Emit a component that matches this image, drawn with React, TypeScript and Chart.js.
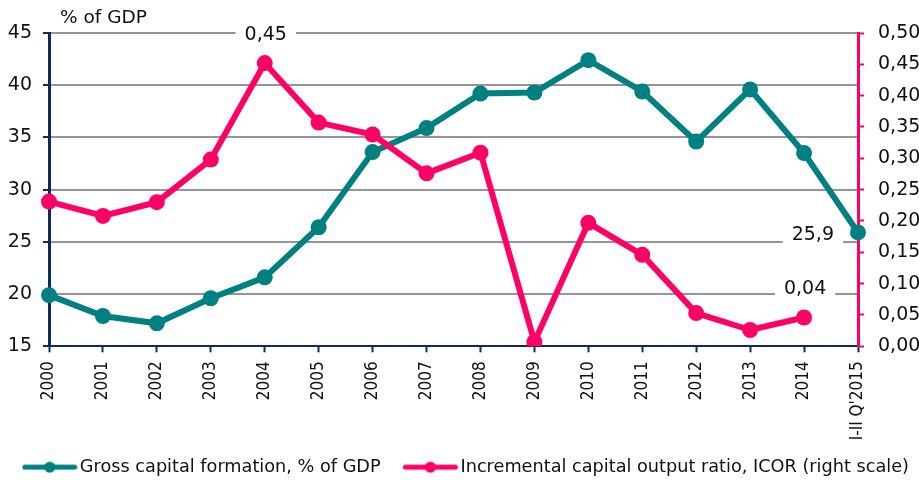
import React, { useEffect, useRef } from 'react';
import { Chart, registerables } from 'chart.js';

Chart.register(...registerables);

const categories = ['2000', '2001', '2002', '2003', '2004', '2005', '2006', '2007', '2008', '2009', '2010', '2011', '2012', '2013', '2014', "I-II Q'2015"];
const grossCapitalFormation = [19.9, 17.9, 17.2, 19.6, 21.6, 26.4, 33.6, 35.9, 39.2, 39.3, 42.4, 39.4, 34.6, 39.6, 33.5, 25.9];
const icor = [0.231, 0.208, 0.23, 0.298, 0.452, 0.357, 0.338, 0.276, 0.309, 0.007, 0.197, 0.146, 0.053, 0.026, 0.046, null];
const seriesNames = ['Gross capital formation, % of GDP', 'Incremental capital output ratio, ICOR (right scale)'];
const leftAxisRange = [15, 45, 5];
const rightAxisRange = [0, 0.5, 0.05];
const leftAxisTitle = '% of GDP';
// [datasetIndex, pointIndex, text, placement]
const valueLabels: [number, number, string, string][] = [
  [1, 4, '0,45', 'above'],
  [0, 15, '25,9', 'left'],
  [1, 14, '0,04', 'above'],
];

const FONT = "'DejaVu Sans', Verdana, sans-serif";
const TEAL = '#008080';
const PINK = '#ff0066';
const NAVY = '#0b2a66';
const GRID = '#959595';
const TEXT = '#111111';

function condensedAvailable() {
  const c = document.createElement('canvas');
  const ctx = c.getContext('2d')!;
  const s = 'I-II 2000 Q2015 abcdefg';
  ctx.font = "40px 'DejaVu Sans Condensed', monospace";
  const a = ctx.measureText(s).width;
  ctx.font = '40px monospace';
  const b = ctx.measureText(s).width;
  return Math.abs(a - b) > 0.5;
}

function makeSymbol(color: string) {
  const c = document.createElement('canvas');
  c.width = 80;
  c.height = 14;
  const ctx = c.getContext('2d')!;
  const cx = 51.3;
  ctx.strokeStyle = color;
  ctx.lineWidth = 5;
  ctx.lineCap = 'round';
  ctx.beginPath();
  ctx.moveTo(cx - 25, 7);
  ctx.lineTo(cx + 25, 7);
  ctx.stroke();
  ctx.fillStyle = color;
  ctx.beginPath();
  ctx.arc(cx, 7, 5.5, 0, Math.PI * 2);
  ctx.fill();
  return c;
}

const labelPlugin = {
  id: 'valueLabels',
  beforeDatasetsDraw(chart: any) {
    const ctx = chart.ctx;
    ctx.save();
    ctx.font = `19px ${FONT}`;
    ctx.textBaseline = 'middle';
    ctx.textAlign = 'center';
    valueLabels.forEach(([ds, idx, text, place]) => {
      const pt = chart.getDatasetMeta(ds).data[idx];
      if (!pt) return;
      const w = ctx.measureText(text).width;
      let cx = pt.x;
      let cy = pt.y;
      if (place === 'above') {
        cx = pt.x + 1;
        cy = pt.y - 28;
      } else {
        cx = pt.x - 24 - w / 2;
        cy = pt.y + 3;
      }
      ctx.fillStyle = '#ffffff';
      ctx.fillRect(cx - w / 2 - 9, cy - 11, w + 18, 22);
      ctx.fillStyle = TEXT;
      ctx.fillText(text, cx, cy);
    });
    ctx.restore();
  },
  afterDraw(chart: any) {
    const ctx = chart.ctx;
    ctx.save();
    ctx.font = `18.5px ${FONT}`;
    ctx.textBaseline = 'middle';
    ctx.textAlign = 'left';
    ctx.fillStyle = TEXT;
    ctx.fillText(leftAxisTitle, chart.chartArea.left + 11, chart.chartArea.top - 15);
    ctx.restore();
  },
};

export default function App() {
  const ref = useRef<HTMLCanvasElement>(null);
  useEffect(() => {
    if (!ref.current) return;
    const symbols = [makeSymbol(TEAL), makeSymbol(PINK)];
    const hasCond = condensedAvailable();
    const xFont = hasCond
      ? { family: "'DejaVu Sans Condensed', 'DejaVu Sans', sans-serif", size: 17 }
      : { family: FONT, size: 15.5 };
    const chart = new Chart(ref.current, {
      type: 'line',
      data: {
        labels: categories,
        datasets: [
          {
            label: seriesNames[0],
            data: grossCapitalFormation,
            yAxisID: 'y',
            borderColor: TEAL,
            backgroundColor: TEAL,
            borderWidth: 6,
            pointRadius: 8,
            pointHoverRadius: 8,
            pointBorderWidth: 0,
            pointBackgroundColor: TEAL,
            tension: 0,
            order: 2,
          },
          {
            label: seriesNames[1],
            data: icor,
            yAxisID: 'y1',
            borderColor: PINK,
            backgroundColor: PINK,
            borderWidth: 6,
            pointRadius: 8,
            pointHoverRadius: 8,
            pointBorderWidth: 0,
            pointBackgroundColor: PINK,
            tension: 0,
            order: 1,
          },
        ],
      },
      options: {
        animation: false,
        responsive: false,
        layout: { padding: { top: 33, left: 0, right: 0, bottom: 0 } },
        plugins: {
          tooltip: { enabled: false },
          legend: {
            position: 'bottom',
            align: 'start',
            labels: {
              usePointStyle: true,
              pointStyleWidth: 65,
              padding: 6,
              color: TEXT,
              font: { family: FONT, size: 17.7 },
              generateLabels: (c: any) =>
                c.data.datasets.map((ds: any, i: number) => ({
                  text: ds.label,
                  pointStyle: symbols[i],
                  fillStyle: ds.borderColor,
                  strokeStyle: ds.borderColor,
                  lineWidth: 0,
                  hidden: false,
                  datasetIndex: i,
                  fontColor: TEXT,
                })),
            },
          },
        },
        scales: {
          x: {
            type: 'category',
            offset: false,
            afterFit: (s: any) => {
              s.height = 106;
            },
            grid: {
              display: true,
              drawOnChartArea: false,
              drawTicks: true,
              tickLength: 6,
              tickColor: NAVY,
              tickWidth: 2,
              color: NAVY,
            },
            border: { display: true, color: NAVY, width: 2 },
            ticks: {
              autoSkip: false,
              maxRotation: 90,
              minRotation: 90,
              padding: 9,
              color: TEXT,
              font: xFont,
            },
          },
          y: {
            position: 'left',
            min: leftAxisRange[0],
            max: leftAxisRange[1],
            afterFit: (s: any) => {
              s.width = 49;
            },
            grid: {
              color: GRID,
              lineWidth: 2,
              tickColor: NAVY,
              tickWidth: 2,
              tickLength: 6,
            },
            border: { display: true, color: NAVY, width: 3 },
            ticks: {
              stepSize: leftAxisRange[2],
              padding: 11,
              color: TEXT,
              font: { family: FONT, size: 19 },
            },
          },
          y1: {
            position: 'right',
            min: rightAxisRange[0],
            max: rightAxisRange[1],
            afterFit: (s: any) => {
              s.width = 64;
            },
            grid: {
              drawOnChartArea: false,
              tickColor: PINK,
              tickWidth: 2,
              tickLength: 6,
            },
            border: { display: true, color: PINK, width: 3 },
            ticks: {
              stepSize: rightAxisRange[2],
              padding: 14,
              color: TEXT,
              font: { family: FONT, size: 19 },
              callback: (v: any) => Number(v).toFixed(2).replace('.', ','),
            },
          },
        },
      },
      plugins: [labelPlugin],
    });
    return () => chart.destroy();
  }, []);

  return (
    <div style={{ position: 'fixed', left: 0, top: 0, width: 919, height: 480, overflow: 'hidden', background: '#fff' }}>
      <canvas ref={ref} width={922} height={486} style={{ display: 'block', width: 922, height: 486 }} />
    </div>
  );
}
